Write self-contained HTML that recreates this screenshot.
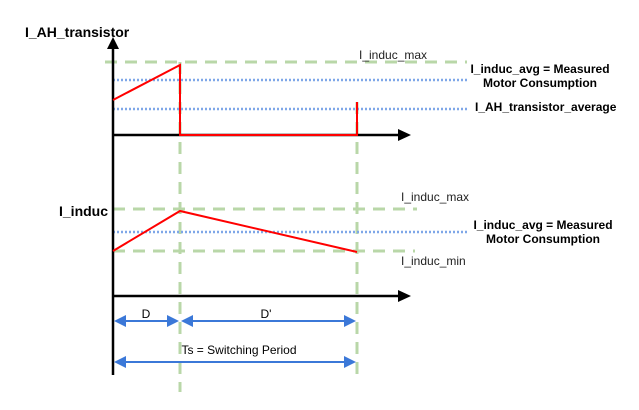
<!DOCTYPE html>
<html><head><meta charset="utf-8"><style>body{margin:0;background:#fff}text{font-family:"Liberation Sans",sans-serif}</style></head><body>
<svg width="639" height="405" viewBox="0 0 639 405" xmlns="http://www.w3.org/2000/svg">
<g stroke="#b9d7a8" stroke-width="3" stroke-dasharray="12,8" fill="none">
<line x1="105" y1="62" x2="467" y2="62"/>
<line x1="113" y1="209" x2="417" y2="209"/>
<line x1="113" y1="251" x2="415" y2="251"/>
<line x1="180" y1="62" x2="180" y2="392"/>
<line x1="357" y1="102" x2="357" y2="378"/>
</g>
<g stroke="#7fa7e8" stroke-width="2.5" stroke-dasharray="2,2" fill="none">
<line x1="113" y1="80" x2="467" y2="80"/>
<line x1="113" y1="109" x2="467" y2="109"/>
<line x1="113" y1="232" x2="469" y2="232"/>
</g>
<g stroke="#000" stroke-width="2.5" fill="none">
<line x1="113" y1="48" x2="113" y2="375"/>
<line x1="113" y1="135" x2="400" y2="135"/>
<line x1="113" y1="296" x2="400" y2="296"/>
</g>
<polygon points="113,37 107,49 119,49" fill="#000"/>
<polygon points="411,135 398,129 398,141" fill="#000"/>
<polygon points="411,296 398,290 398,302" fill="#000"/>
<g stroke="#f00" stroke-width="2" fill="none">
<polyline points="113,100 180,65 180,135 357,135 357,102"/>
<polyline points="113,251 180,211 357,252"/>
</g>
<g stroke="#3b78d8" stroke-width="2">
<line x1="120" y1="321" x2="173" y2="321"/>
<line x1="187" y1="321" x2="350" y2="321"/>
<line x1="120" y1="362" x2="350" y2="362"/>
</g>
<g fill="#3b78d8">
<polygon points="114,321 126,315 126,327"/><polygon points="179,321 167,315 167,327"/>
<polygon points="181,321 193,315 193,327"/><polygon points="356,321 344,315 344,327"/>
<polygon points="114,362 126,356 126,368"/><polygon points="356,362 344,356 344,368"/>
</g>
<g font-size="12" fill="#000">
<text x="25" y="37" font-size="14" font-weight="bold">I_AH_transistor</text>
<text x="59" y="216" font-size="14" font-weight="bold">I_induc</text>
<text x="359" y="59" fill="#222">I_induc_max</text>
<text x="540" y="73" text-anchor="middle" font-weight="bold">I_induc_avg = Measured</text>
<text x="540" y="87" text-anchor="middle" font-weight="bold">Motor Consumption</text>
<text x="475" y="111" font-weight="bold">I_AH_transistor_average</text>
<text x="401" y="201" fill="#222">I_induc_max</text>
<text x="543" y="229" text-anchor="middle" font-weight="bold">I_induc_avg = Measured</text>
<text x="543" y="243" text-anchor="middle" font-weight="bold">Motor Consumption</text>
<text x="401" y="265" fill="#222">I_induc_min</text>
<text x="146" y="318" text-anchor="middle">D</text>
<text x="266" y="318" text-anchor="middle">D'</text>
<text x="239" y="354" text-anchor="middle">Ts = Switching Period</text>
</g>
</svg>
</body></html>
